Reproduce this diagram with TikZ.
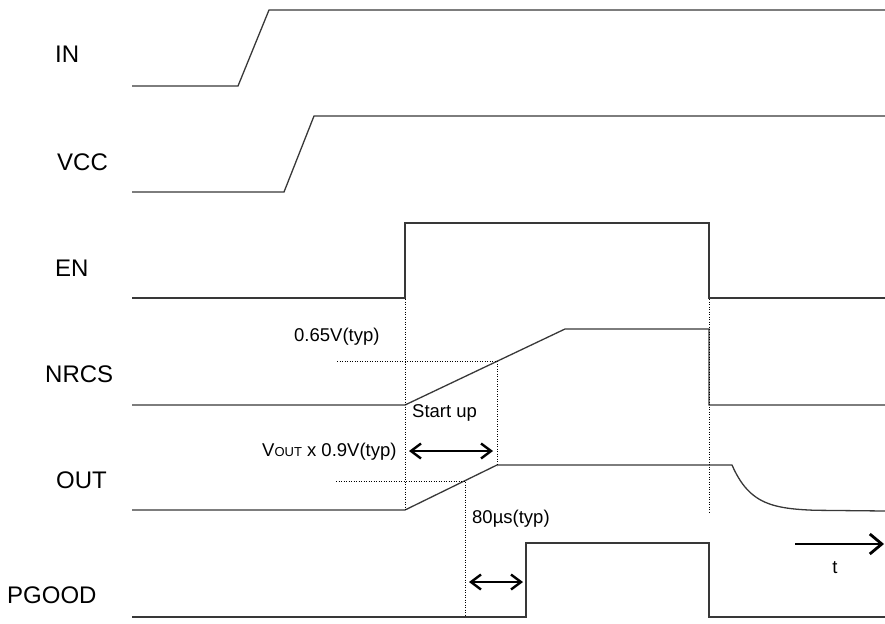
\documentclass[tikz,border=0pt]{standalone}
\usepackage{fontspec}
\setmainfont{Liberation Sans}
\usetikzlibrary{arrows.meta}
\begin{document}
\begin{tikzpicture}[x=1pt,y=-1pt,
  sig/.style={line width=1.3pt, draw=black!78, line join=miter},
  guide/.style={line width=0.8pt, draw=black, dash pattern=on 0.9pt off 1.6pt},
  lbl/.style={font=\fontsize{24}{28}\selectfont, anchor=base west, inner sep=0pt},
  ann/.style={font=\fontsize{18.5}{22}\selectfont, anchor=base west, inner sep=0pt},
  dimarrow/.style={line width=2.4pt, {Straight Barb[length=10pt,width=15pt]}-{Straight Barb[length=10pt,width=15pt]}},
  taxis/.style={line width=2.8pt, -{Straight Barb[length=12pt,width=20pt]}}]
\useasboundingbox (0,0) rectangle (885,623);

% signal labels
\node[lbl] (lIN)    at (55,63)  {IN};
\node[lbl] (lVCC)   at (57,170) {VCC};
\node[lbl] (lEN)    at (55,276) {EN};
\node[lbl] (lNRCS)  at (45,382) {NRCS};
\node[lbl] (lOUT)   at (56,488) {OUT};
\node[lbl] (lPGOOD) at (7,603)  {PGOOD};

% waveforms
\draw[sig] (132,86) -- (238,86) -- (269,10) -- (885,10);
\draw[sig] (132,192) -- (284,192) -- (314,116) -- (885,116);
\draw[sig] (132,298) -- (405,298) -- (405,223) -- (709,223) -- (709,298) -- (885,298);
\draw[sig] (132,405) -- (405,405) -- (565,329) -- (709,329) -- (709,405) -- (885,405);
\draw[sig] (132,510) -- (405,510) -- (497,465) -- (732,465)
  -- plot[domain=0:83, samples=40] ({732+\x},{465+46*(1-exp(-\x/20))}) -- (885,511);
\draw[sig] (132,617) -- (526,617) -- (526,543) -- (709,543) -- (709,617) -- (885,617);

% guide lines
\coordinate (g1a) at (405,299);
\coordinate (g1b) at (405,510);
\coordinate (g2a) at (709,299);
\coordinate (g2b) at (709,512);
\coordinate (g3a) at (337,361);
\coordinate (g3b) at (497,361);
\coordinate (g4b) at (497,466);
\coordinate (g5a) at (336,481);
\coordinate (g5b) at (465,481);
\coordinate (g6b) at (465,617);
\draw[guide] (g1a) -- (g1b);
\draw[guide] (g2a) -- (g2b);
\draw[guide] (g3a) -- (g3b) -- (g4b);
\draw[guide] (g5a) -- (g5b) -- (g6b);

% annotations
\node[ann] (a065) at (294,341) {0.65V(typ)};
\node[ann] (aSU)  at (412,417) {Start up};
\node[ann] (aVO)  at (262,456) {V{\fontsize{13}{15}\selectfont OUT} x 0.9V(typ)};
\node[ann] (a80)  at (472,523) {80µs(typ)};

% dimension arrows
\coordinate (d1a) at (409,451);
\coordinate (d1b) at (493,451);
\coordinate (d2a) at (469,582);
\coordinate (d2b) at (523,582);
\draw[dimarrow] (d1a) -- (d1b);
\draw[dimarrow] (d2a) -- (d2b);

% time axis
\coordinate (t0) at (795,544);
\coordinate (t1) at (884,544);
\draw[taxis] (t0) -- (t1);
\node[font=\fontsize{18.5}{22}\selectfont, anchor=base, inner sep=0pt] (tl) at (835,573) {t};
\end{tikzpicture}
\end{document}
